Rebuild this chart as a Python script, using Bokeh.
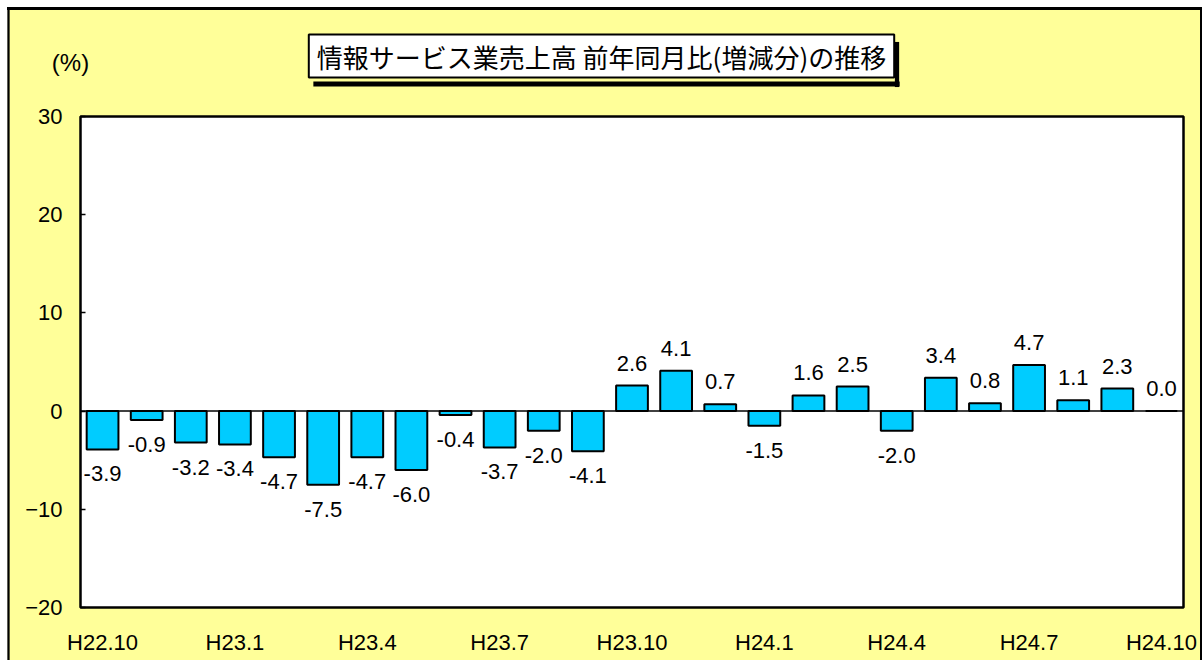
from bokeh.plotting import figure
from bokeh.models import (ColumnDataSource, Range1d, Span, Label,
                          FixedTicker, LabelSet, Spacer)
from bokeh.layouts import column, row
from bokeh.core.properties import value
from bokeh.embed import file_html
from bokeh.resources import INLINE

months = ["H22.10", "H22.11", "H22.12",
          "H23.1", "H23.2", "H23.3", "H23.4", "H23.5", "H23.6",
          "H23.7", "H23.8", "H23.9", "H23.10", "H23.11", "H23.12",
          "H24.1", "H24.2", "H24.3", "H24.4", "H24.5", "H24.6",
          "H24.7", "H24.8", "H24.9", "H24.10"]
values = [-3.9, -0.9, -3.2, -3.4, -4.7, -7.5, -4.7, -6.0, -0.4, -3.7, -2.0, -4.1,
          2.6, 4.1, 0.7, -1.5, 1.6, 2.5, -2.0, 3.4, 0.8, 4.7, 1.1, 2.3, 0.0]
shown_ticks = ["H22.10", "H23.1", "H23.4", "H23.7", "H23.10",
               "H24.1", "H24.4", "H24.7", "H24.10"]
y_ticks = [-20, -10, 0, 10, 20, 30]
title_text = "情報サービス業売上高 前年同月比(増減分)の推移"
unit_text = "(%)"

W, H = 1193, 653
NUM_FONT = "Liberation Sans"
JP_FONT = "Noto Sans CJK JP"

pos = list(range(len(months)))
src = ColumnDataSource(dict(
    x=pos,
    value=values,
    label=["{:.1f}".format(v) for v in values],
    yoff=[15 if v >= 0 else -32 for v in values],
))

p = figure(width=W, height=H, x_range=Range1d(-0.5, len(months) - 0.5),
           y_range=Range1d(-20, 30), output_backend="svg",
           toolbar_location=None, tools="")
p.min_border_left = 73
p.min_border_right = 17
p.min_border_top = 109
p.min_border_bottom = 53
p.border_fill_color = "#FFFF99"
p.background_fill_color = "white"
p.outline_line_color = "black"
p.outline_line_width = 2.5
p.grid.visible = False

p.vbar(x="x", top="value", bottom=0, width=0.72, source=src,
       fill_color="#00CCFF", line_color="black", line_width=2)

p.add_layout(Span(location=0, dimension="width", line_color="black",
                  line_width=1.5))

p.add_layout(LabelSet(x="x", y="value", text="label", y_offset="yoff",
                      source=src, text_align="center",
                      text_baseline="alphabetic",
                      text_font=value(NUM_FONT), text_font_size="22px",
                      text_color="black"))

# y axis
p.yaxis.ticker = FixedTicker(ticks=y_ticks)
p.yaxis.axis_line_color = None
p.yaxis.major_tick_in = 5
p.yaxis.major_tick_out = 0
p.yaxis.major_tick_line_color = "black"
p.yaxis.major_tick_line_width = 1.5
p.yaxis.minor_tick_line_color = None
p.yaxis.major_label_text_font = NUM_FONT
p.yaxis.major_label_text_font_size = "22px"
p.yaxis.major_label_text_color = "black"
p.yaxis.major_label_standoff = 18

# x axis
tick_pos = [months.index(t) for t in shown_ticks]
p.xaxis.ticker = FixedTicker(ticks=tick_pos)
p.xaxis.major_label_overrides = {i: months[i] for i in tick_pos}
p.xaxis.axis_line_color = None
p.xaxis.major_tick_line_color = None
p.xaxis.major_tick_out = 0
p.xaxis.major_tick_in = 0
p.xaxis.minor_tick_line_color = None
p.xaxis.major_label_text_font = NUM_FONT
p.xaxis.major_label_text_font_size = "22px"
p.xaxis.major_label_text_color = "black"
p.xaxis.major_label_standoff = 22


def strip(x, y, pad_h, pad_v):
    # thin black bar drawn as an empty label background (padding = (horizontal, vertical))
    return Label(x=x, y=y, x_units="canvas", y_units="canvas", text=" ",
                 text_align="center", text_baseline="middle",
                 text_font_size="1px", background_fill_color="black",
                 padding=(pad_h, pad_v))


# unit label
p.add_layout(Label(x=63, y=55, x_units="canvas", y_units="canvas",
                   text=unit_text, text_align="center", text_baseline="middle",
                   text_font=NUM_FONT, text_font_size="24px",
                   text_color="black"), "above")

# title shadow (bottom and right strips)
p.add_layout(strip(599, 76.5, 293, 2), "above")
p.add_layout(strip(889.5, 57, 2, 22), "right")

# title box
p.add_layout(Label(x=594, y=48.5, x_units="canvas", y_units="canvas",
                   text=title_text, text_align="center", text_baseline="middle",
                   text_font=JP_FONT, text_font_size="26px",
                   text_color="black", background_fill_color="white",
                   border_line_color="black", border_line_width=2,
                   padding=(8, 3)),
             "above")

# outer chart border (top, left); right edge is a black spacer in the layout
p.add_layout(strip(W / 2, 1, W // 2 + 2, 1), "above")
p.add_layout(strip(1, H / 2, 1, H // 2 + 2), "left")

right_edge = Spacer(width=2, height=H, styles={"background-color": "black"})
layout = column(Spacer(height=7), row(Spacer(width=7), p, right_edge))
open("out.html", "w").write(file_html(layout, INLINE))
